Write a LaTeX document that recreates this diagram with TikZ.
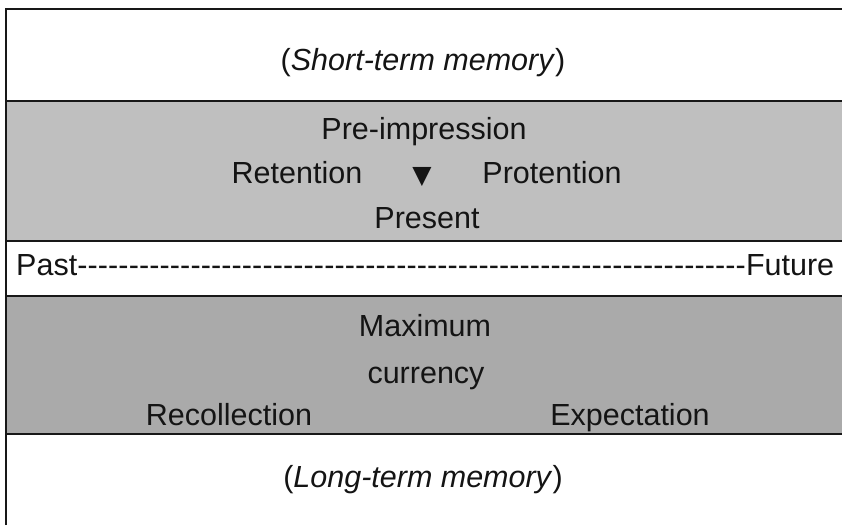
\documentclass[tikz,border=0pt]{standalone}
\usepackage{fontspec}
\setmainfont{Liberation Sans}
\newfontfamily\symfont{DejaVu Sans}
\definecolor{bandA}{HTML}{BFBFBF}
\definecolor{bandB}{HTML}{AAAAAA}
\definecolor{rulec}{HTML}{181818}
\begin{document}
\begin{tikzpicture}[x=1pt,y=-1pt,
  lbl/.style={font=\fontsize{30.5}{34}\selectfont, inner sep=0pt, anchor=base, text=black!92},
  sep/.style={draw=rulec, line width=1.5pt},
  frame/.style={draw=rulec, line width=2.6pt}]
\useasboundingbox (0,0) rectangle (842,525);
\fill[white] (0,0) rectangle (842,525);
\fill[bandA] (6,101) rectangle (842,241);
\fill[bandB] (6,296) rectangle (842,434);
\draw[sep] (6,101) -- (842,101);
\draw[sep] (6,241) -- (842,241);
\draw[sep] (6,296) -- (842,296);
\draw[sep] (6,434) -- (842,434);
\draw[frame] (6,525) -- (6,9) -- (842,9);
\node[lbl] (stm) at (423,70) {(\textit{Short-term memory})};
\node[lbl] (pre) at (424,139) {Pre-impression};
\node[lbl] (ret) at (297,183) {Retention};
\node[lbl] (tri) at (422,183) {{\symfont\fontsize{25}{28}\selectfont ▼}};
\node[lbl] (pro) at (552,183) {Protention};
\node[lbl] (prs) at (427,228) {Present};
\node[lbl, anchor=base west] (pf) at (16,275) {\makebox[818pt]{Past\xleaders\hbox{-}\hfill Future}};
\node[lbl] (max) at (425,336) {Maximum};
\node[lbl] (cur) at (426,383) {currency};
\node[lbl] (rec) at (229,425) {Recollection};
\node[lbl] (exp) at (630,425) {Expectation};
\node[lbl] (ltm) at (423,487) {(\textit{Long-term memory})};
\end{tikzpicture}
\end{document}
